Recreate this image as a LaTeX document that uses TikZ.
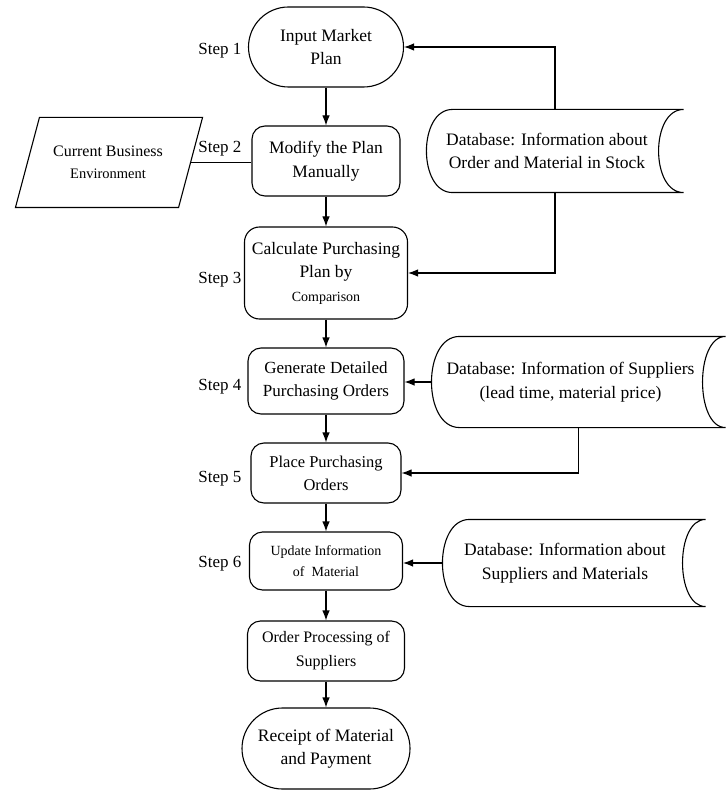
\documentclass[tikz,border=0pt]{standalone}
\usepackage{fontspec}
\setmainfont{Liberation Serif}
\usetikzlibrary{arrows.meta}
\newcommand\fmain{\fontsize{17.5}{23.5}\selectfont}
\newcommand\fstepfont{\fontsize{17}{20}\selectfont}
\begin{document}
\begin{tikzpicture}[x=1pt,y=-1pt,line width=1.1pt,>={Latex[length=10pt,width=7.5pt]}]
\useasboundingbox (0,0) rectangle (725,791);
\tikzset{
  proc/.style={draw, rounded corners=13pt, align=center, inner sep=0pt, font=\fmain},
  term/.style={draw, rounded corners=40pt, align=center, inner sep=0pt, font=\fmain},
  dbbox/.style={inner sep=0pt},
  dbtext/.style={align=center, inner sep=0pt, font=\fmain},
  steplbl/.style={anchor=base east, inner sep=0pt, font=\fstepfont},
  flow/.style={->}
}
% main column
\node[term, minimum width=155pt, minimum height=80pt] (input) at (326,47) {Input Market\\Plan};
\node[proc, minimum width=148pt, minimum height=70pt] (modify) at (326,161) {Modify the Plan\\Manually};
\node[proc, rounded corners=15pt, minimum width=163pt, minimum height=92pt] (calc) at (326,273)
  {Calculate Purchasing\\Plan by\\{\fontsize{14}{22}\selectfont Comparison}};
\node[proc, minimum width=156pt, minimum height=66pt, font=\fontsize{17}{23.5}\selectfont] (gen) at (326,381) {Generate Detailed\\Purchasing Orders};
\node[proc, minimum width=150pt, minimum height=60pt, font=\fontsize{16.5}{23}\selectfont] (place) at (326,473) {Place Purchasing\\Orders};
\node[proc, minimum width=153pt, minimum height=58pt, font=\fontsize{14}{21}\selectfont] (update) at (326,561) {Update Information\\of~ Material};
\node[proc, minimum width=157pt, minimum height=60pt, font=\fontsize{16}{24}\selectfont] (order) at (326,651) {Order Processing of\\Suppliers};
\node[term, rounded corners=40.5pt, minimum width=168pt, minimum height=81pt] (receipt) at (326,748.5) {Receipt of Material\\and Payment};

\draw[flow] (input) -- (modify);
\draw[flow] (modify) -- (calc);
\draw[flow] (calc) -- (gen);
\draw[flow] (gen) -- (place);
\draw[flow] (place) -- (update);
\draw[flow] (update) -- (order);
\draw[flow] (order) -- (receipt);

% step labels
\node[steplbl] (s1) at (242,55) {Step 1};
\node[steplbl] (s2) at (242,153) {Step 2};
\node[steplbl] (s3) at (242,283) {Step 3};
\node[steplbl] (s4) at (242,390) {Step 4};
\node[steplbl] (s5) at (242,482) {Step 5};
\node[steplbl] (s6) at (242,567) {Step 6};

% environment parallelogram
\node[inner sep=0pt, minimum width=186pt, minimum height=89pt] (env) at (109,162.5) {};
\draw ([xshift=24pt]env.north west) -- (env.north east) -- ([xshift=-24pt]env.south east) -- (env.south west) -- cycle;
\node[align=center, inner sep=0pt, font=\fontsize{16}{22}\selectfont] (envt) at (108,162.5) {Current Business\\{\fontsize{14.5}{22}\selectfont Environment}};
\draw ([xshift=-12pt]env.east) -- (env.east -| modify.west);

% database 1
\node[dbbox, minimum width=256pt, minimum height=82pt] (db1) at (555,151) {};
\draw ([xshift=26pt]db1.north west) -- (db1.north east)
  .. controls +(-33.3,0) and +(-33.3,0) .. (db1.south east)
  -- ([xshift=26pt]db1.south west)
  .. controls +(-34.7,0) and +(-34.7,0) .. ([xshift=26pt]db1.north west) -- cycle;
\node[dbtext] (db1t) at ([xshift=-8pt]db1.center) {Database: Information about\\Order and Material in Stock};
\draw[flow] (db1.north) |- (input.east);
\draw[flow] (db1.south) |- (calc.east);

% database 2
\node[dbbox, minimum width=293pt, minimum height=90pt] (db2) at (578.5,382) {};
\draw ([xshift=28pt]db2.north west) -- (db2.north east)
  .. controls +(-30.7,0) and +(-30.7,0) .. (db2.south east)
  -- ([xshift=28pt]db2.south west)
  .. controls +(-37.3,0) and +(-37.3,0) .. ([xshift=28pt]db2.north west) -- cycle;
\node[dbtext] (db2t) at ([xshift=-8pt]db2.center) {Database: Information of Suppliers\\(lead time, material price)};
\draw[flow] (db2.west) -- (db2.west -| gen.east);
\draw[flow] (db2.south) |- (place.east);

% database 3
\node[dbbox, minimum width=262pt, minimum height=86pt] (db3) at (574,563) {};
\draw ([xshift=27pt]db3.north west) -- (db3.north east)
  .. controls +(-30.7,0) and +(-30.7,0) .. (db3.south east)
  -- ([xshift=27pt]db3.south west)
  .. controls +(-36,0) and +(-36,0) .. ([xshift=27pt]db3.north west) -- cycle;
\node[dbtext] (db3t) at ([xshift=-9pt]db3.center) {Database: Information about\\Suppliers and Materials};
\draw[flow] (db3.west) -- (db3.west -| update.east);
\end{tikzpicture}
\end{document}
